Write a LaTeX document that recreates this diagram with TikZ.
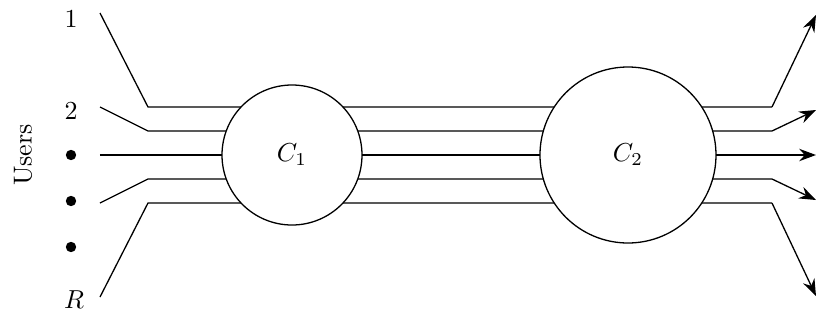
\documentclass[tikz,border=0pt]{standalone}
\usetikzlibrary{arrows.meta}
\begin{document}
\begin{tikzpicture}[x=0.385pt,y=-0.385pt,
  wire/.style={line width=0.5pt},
  outwire/.style={wire,-{Stealth[length=6.5pt,width=4.8pt,inset=2.2pt]}},
  ctr/.style={circle,draw,fill=white,line width=0.5pt,inner sep=0pt},
  lbl/.style={inner sep=0pt},
  dotn/.style={circle,fill=black,inner sep=0pt,minimum size=4pt}]
\useasboundingbox (0,0) rectangle (817,320);
% left start points
\coordinate (s1) at (100,13);
\coordinate (s2) at (100,107);
\coordinate (s3) at (100,155);
\coordinate (s4) at (100,203);
\coordinate (s5) at (100,297);
% bends left
\coordinate (b1) at (148,107);
\coordinate (b2) at (148,131);
\coordinate (b4) at (148,179);
\coordinate (b5) at (148,203);
% bends right
\coordinate (r1) at (772,107);
\coordinate (r2) at (772,131);
\coordinate (r4) at (772,179);
\coordinate (r5) at (772,203);
% ends
\coordinate (e1) at (816,15);
\coordinate (e2) at (816,110);
\coordinate (e3) at (816,155);
\coordinate (e4) at (816,200);
\coordinate (e5) at (816,296);
\draw[wire] (s1) -- (b1) -- (r1);
\draw[outwire] (r1) -- (e1);
\draw[wire] (s2) -- (b2) -- (r2);
\draw[outwire] (r2) -- (e2);
\draw[outwire] (s3) -- (e3);
\draw[wire] (s4) -- (b4) -- (r4);
\draw[outwire] (r4) -- (e4);
\draw[wire] (s5) -- (b5) -- (r5);
\draw[outwire] (r5) -- (e5);
% circles
\node[ctr,minimum size=140*0.385pt] (c1) at (292,155) {$C_1$};
\node[ctr,minimum size=176*0.385pt] (c2) at (628,155) {$C_2$};
% labels
\node[lbl] (l1) at (71,19) {1};
\node[lbl] (l2) at (71,111) {2};
\node[dotn] (d1) at (71,155) {};
\node[dotn] (d2) at (71,201) {};
\node[dotn] (d3) at (71,247) {};
\node[lbl] (lR) at (74,300) {$R$};
\node[lbl,rotate=90] (users) at (23,155) {Users};
\end{tikzpicture}
\end{document}
